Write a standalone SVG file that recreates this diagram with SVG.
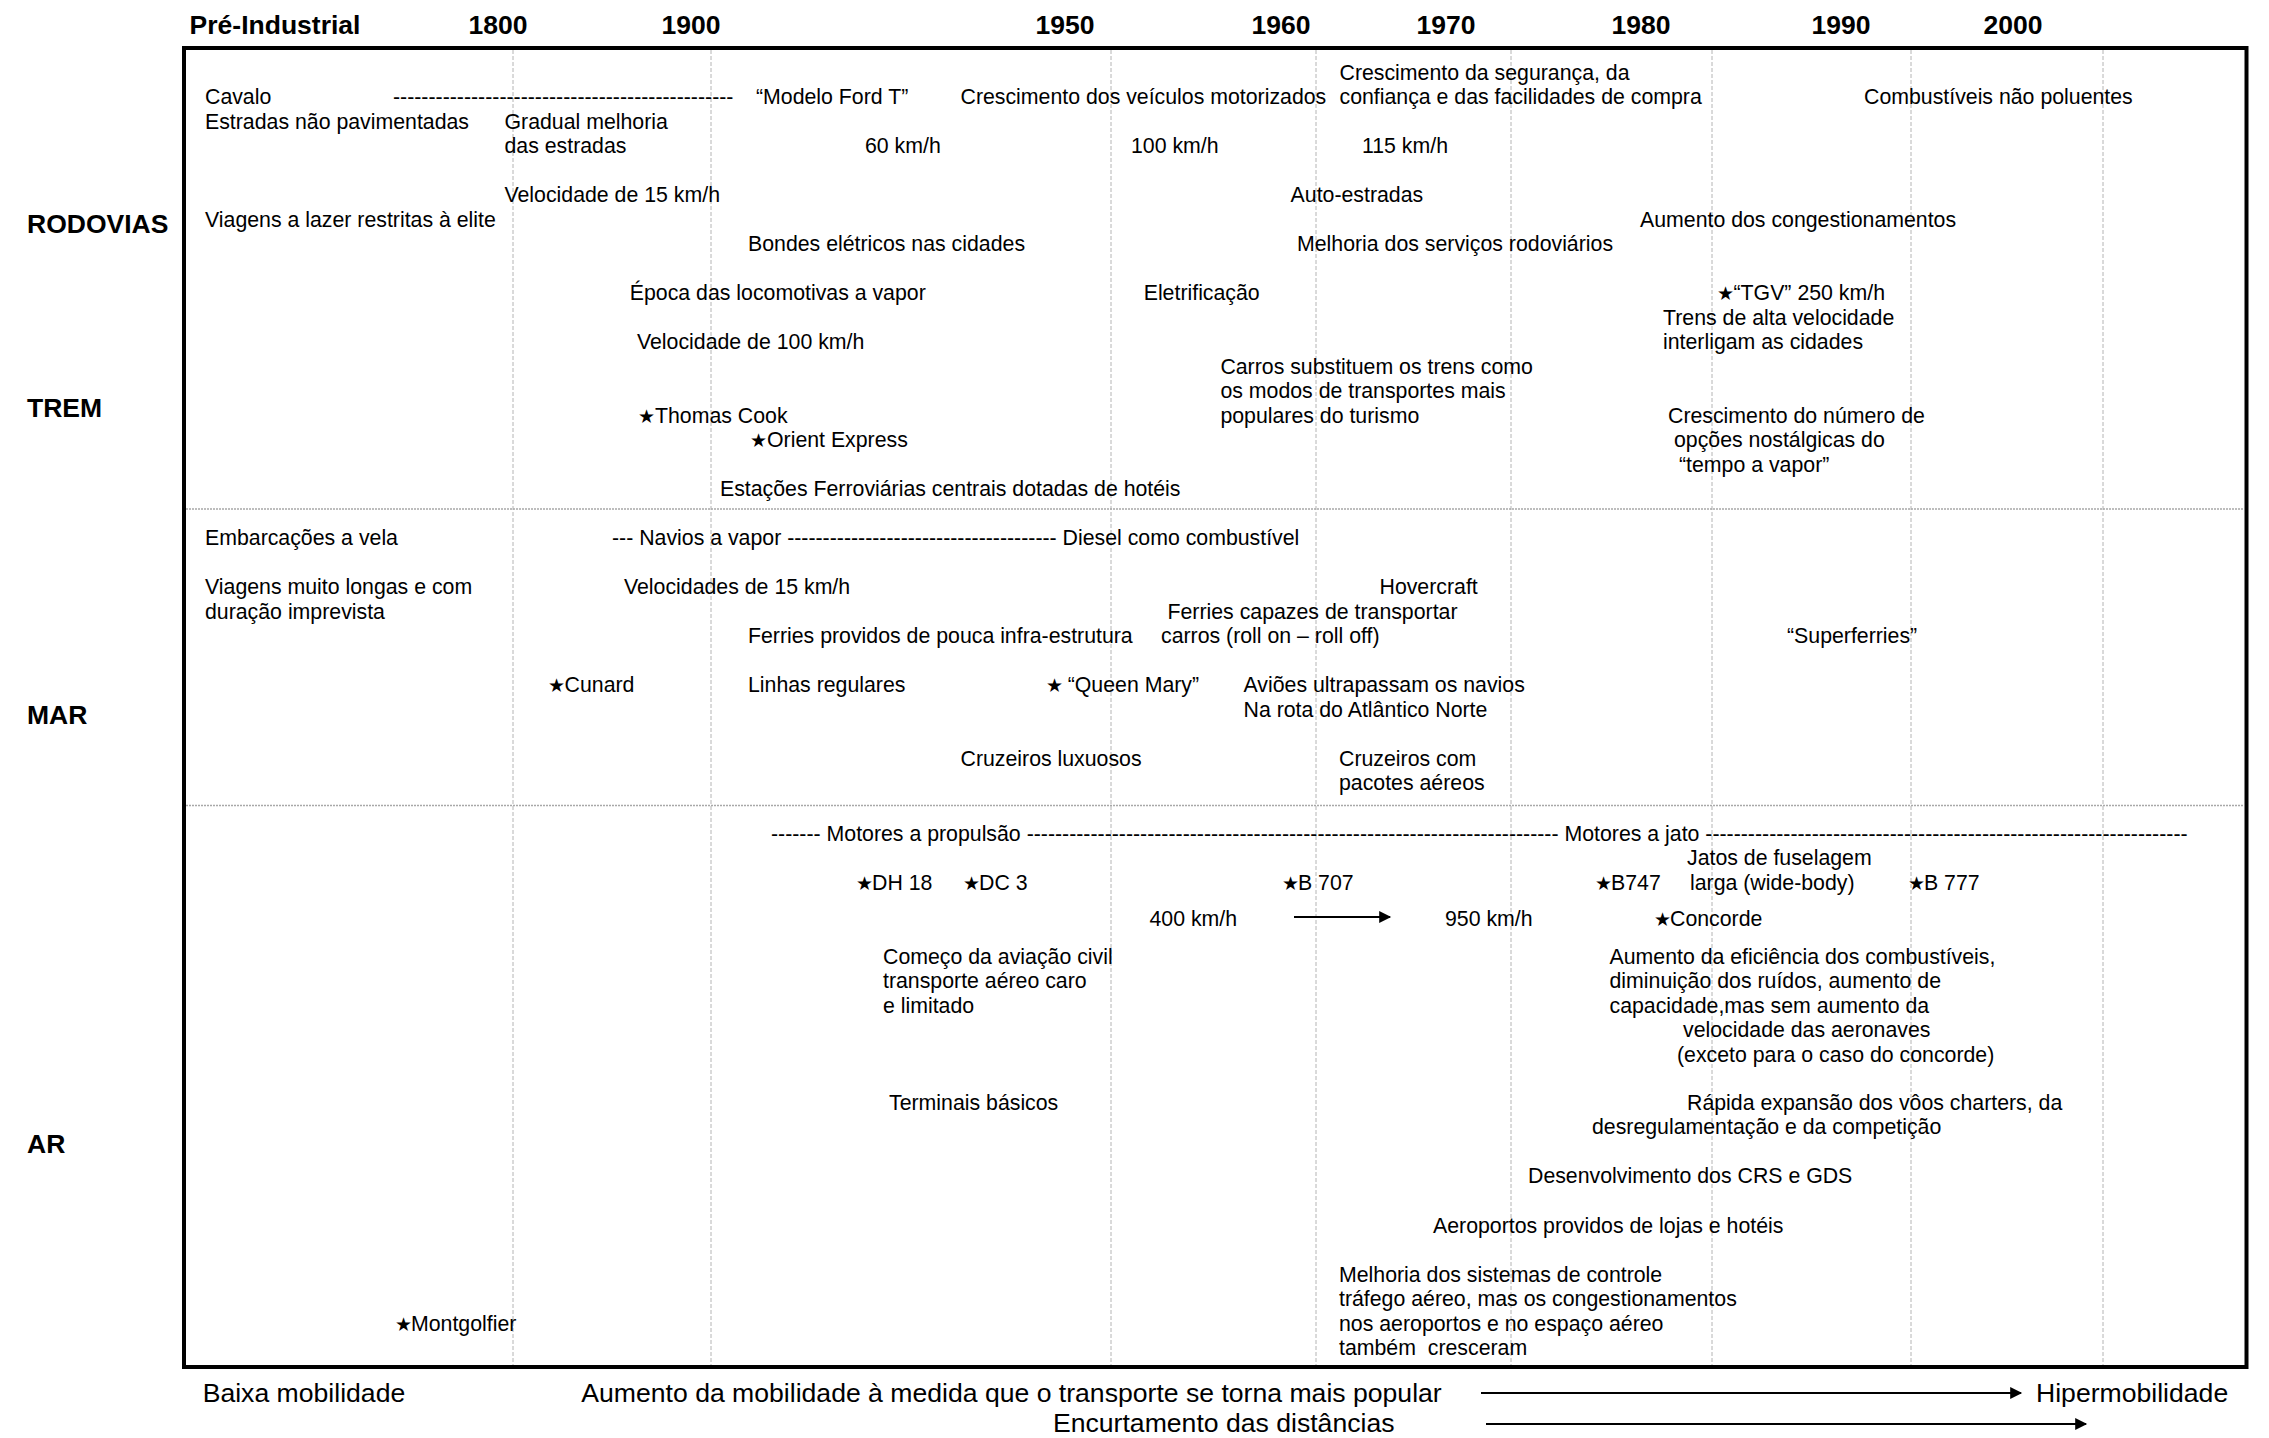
<svg xmlns="http://www.w3.org/2000/svg" width="2269" height="1438" viewBox="0 0 2269 1438">
<style>
text{font-family:"Liberation Sans",Arial,sans-serif;fill:#000;white-space:pre}
.t{font-size:21.3px}
.h{font-size:26.5px;font-weight:bold;text-anchor:middle}
.r{font-size:26.5px;font-weight:bold}
.f{font-size:26.6px}
.star{font-family:"DejaVu Sans",sans-serif;font-size:19px}
.grid{stroke:#b4b4b4;stroke-width:1;stroke-dasharray:4 2;fill:none}
.sep{stroke:#a8a8a8;stroke-width:1.5;stroke-dasharray:2 1;fill:none}
.arr{stroke:#000;stroke-width:2;fill:none;marker-end:url(#ah)}
</style>
<defs>
<marker id="ah" viewBox="0 0 10 10" refX="9" refY="5" markerWidth="13" markerHeight="12" markerUnits="userSpaceOnUse" orient="auto">
<path d="M0,0 L10,5 L0,10 z" fill="#000"/>
</marker>
</defs>
<rect width="2269" height="1438" fill="#fff"/>

<g id="frame">
<line class="grid" x1="513" y1="50" x2="513" y2="1365"/>
<line class="grid" x1="711" y1="50" x2="711" y2="1365"/>
<line class="grid" x1="1111" y1="50" x2="1111" y2="1365"/>
<line class="grid" x1="1316" y1="50" x2="1316" y2="1365"/>
<line class="grid" x1="1511" y1="50" x2="1511" y2="1365"/>
<line class="grid" x1="1712" y1="50" x2="1712" y2="1365"/>
<line class="grid" x1="1911" y1="50" x2="1911" y2="1365"/>
<line class="grid" x1="2103" y1="50" x2="2103" y2="1365"/>
<line class="sep" x1="186" y1="509" x2="2244" y2="509"/>
<line class="sep" x1="186" y1="805.5" x2="2244" y2="805.5"/>
<rect x="184" y="48" width="2062.5" height="1319" fill="none" stroke="#000" stroke-width="4"/>
</g>

<g id="header">
<text class="h" x="189.6" y="34" style="text-anchor:start">Pré-Industrial</text>
<text class="h" x="498" y="34">1800</text>
<text class="h" x="691" y="34">1900</text>
<text class="h" x="1065" y="34">1950</text>
<text class="h" x="1281" y="34">1960</text>
<text class="h" x="1446" y="34">1970</text>
<text class="h" x="1641" y="34">1980</text>
<text class="h" x="1841" y="34">1990</text>
<text class="h" x="2013" y="34">2000</text>
</g>

<g id="row-labels">
<text class="r" x="27" y="233">RODOVIAS</text>
<text class="r" x="27" y="417">TREM</text>
<text class="r" x="27" y="724">MAR</text>
<text class="r" x="27" y="1153">AR</text>
</g>

<g id="rodovias">
<g id="n-cavalo"><text class="t" x="205" y="104">Cavalo</text></g>
<g id="n-cavalo-dash"><text class="t" x="393" y="104">------------------------------------------------</text></g>
<g id="n-fordt"><text class="t" x="756" y="104">“Modelo Ford T”</text></g>
<g id="n-cresc-veic"><text class="t" x="960.5" y="104">Crescimento dos veículos motorizados</text></g>
<g id="n-cresc-seg"><text class="t" y="79.5"><tspan x="1339.5">Crescimento da segurança, da</tspan><tspan x="1339.5" y="104">confiança e das facilidades de compra</tspan></text></g>
<g id="n-combust"><text class="t" x="1864" y="104">Combustíveis não poluentes</text></g>
<g id="n-estradas"><text class="t" x="205" y="128.5">Estradas não pavimentadas</text></g>
<g id="n-gradual"><text class="t" y="128.5"><tspan x="504.5">Gradual melhoria</tspan><tspan x="504.5" y="153">das estradas</tspan></text></g>
<g id="n-60"><text class="t" x="865" y="153">60 km/h</text></g>
<g id="n-100"><text class="t" x="1131" y="153">100 km/h</text></g>
<g id="n-115"><text class="t" x="1362" y="153">115 km/h</text></g>
<g id="n-vel15"><text class="t" x="504.5" y="202">Velocidade de 15 km/h</text></g>
<g id="n-autoestradas"><text class="t" x="1290.6" y="202">Auto-estradas</text></g>
<g id="n-viagens-lazer"><text class="t" x="205" y="226.5">Viagens a lazer restritas à elite</text></g>
<g id="n-congest"><text class="t" x="1640" y="226.5">Aumento dos congestionamentos</text></g>
<g id="n-bondes"><text class="t" x="748" y="251">Bondes elétricos nas cidades</text></g>
<g id="n-melhoria-serv"><text class="t" x="1297" y="251">Melhoria dos serviços rodoviários</text></g>
</g>

<g id="trem">
<g id="n-epoca"><text class="t" x="629.8" y="300">Época das locomotivas a vapor</text></g>
<g id="n-eletrif"><text class="t" x="1143.7" y="300">Eletrificação</text></g>
<g id="n-tgv"><text class="t" y="300"><tspan class="star" x="1717">★</tspan><tspan x="1733.5">“TGV” 250 km/h</tspan></text></g>
<g id="n-trens-alta"><text class="t" y="324.5"><tspan x="1663">Trens de alta velocidade</tspan><tspan x="1663" y="349">interligam as cidades</tspan></text></g>
<g id="n-vel100"><text class="t" x="637" y="349">Velocidade de 100 km/h</text></g>
<g id="n-carros"><text class="t" y="373.5"><tspan x="1220.4">Carros substituem os trens como</tspan><tspan x="1220.4" y="398">os modos de transportes mais</tspan><tspan x="1220.4" y="422.5">populares do turismo</tspan></text></g>
<g id="n-thomas"><text class="t" y="422.5"><tspan class="star" x="638">★</tspan><tspan x="655">Thomas Cook</tspan></text></g>
<g id="n-nostalg"><text class="t" y="422.5"><tspan x="1668">Crescimento do número de</tspan><tspan x="1674" y="447">opções nostálgicas do</tspan><tspan x="1679" y="471.5">“tempo a vapor”</tspan></text></g>
<g id="n-orient"><text class="t" y="447"><tspan class="star" x="750">★</tspan><tspan x="767">Orient Express</tspan></text></g>
<g id="n-estacoes"><text class="t" x="720" y="496">Estações Ferroviárias centrais dotadas de hotéis</text></g>
</g>

<g id="mar">
<g id="n-embarc"><text class="t" x="205" y="545">Embarcações a vela</text></g>
<g id="n-navios"><text class="t" x="612" y="545">--- Navios a vapor -------------------------------------- Diesel como combustível</text></g>
<g id="n-viagens-longas"><text class="t" y="594"><tspan x="205">Viagens muito longas e com</tspan><tspan x="205" y="618.5">duração imprevista</tspan></text></g>
<g id="n-vel15m"><text class="t" x="624" y="594">Velocidades de 15 km/h</text></g>
<g id="n-hover"><text class="t" x="1379.5" y="594">Hovercraft</text></g>
<g id="n-ferries-cap"><text class="t" y="618.5"><tspan x="1167.5">Ferries capazes de transportar</tspan><tspan x="1161" y="643">carros (roll on – roll off)</tspan></text></g>
<g id="n-ferries-prov"><text class="t" x="748" y="643">Ferries providos de pouca infra-estrutura</text></g>
<g id="n-superferries"><text class="t" x="1787" y="643">“Superferries”</text></g>
<g id="n-cunard"><text class="t" y="692"><tspan class="star" x="548">★</tspan><tspan x="564.6">Cunard</tspan></text></g>
<g id="n-linhas"><text class="t" x="748" y="692">Linhas regulares</text></g>
<g id="n-queen"><text class="t" y="692"><tspan class="star" x="1046">★</tspan><tspan x="1067.7">“Queen Mary”</tspan></text></g>
<g id="n-avioes"><text class="t" y="692"><tspan x="1243.5">Aviões ultrapassam os navios</tspan><tspan x="1243.5" y="716.5">Na rota do Atlântico Norte</tspan></text></g>
<g id="n-cruz-lux"><text class="t" x="960.5" y="765.5">Cruzeiros luxuosos</text></g>
<g id="n-cruz-com"><text class="t" y="765.5"><tspan x="1339">Cruzeiros com</tspan><tspan x="1339" y="790">pacotes aéreos</tspan></text></g>
</g>

<g id="ar">
<g id="n-motores"><text class="t" x="771" y="840.5">------- Motores a propulsão --------------------------------------------------------------------------- Motores a jato --------------------------------------------------------------------</text></g>
<g id="n-jatos"><text class="t" y="865"><tspan x="1687">Jatos de fuselagem</tspan><tspan x="1690" y="889.5">larga (wide-body)</tspan></text></g>
<g id="n-dh18"><text class="t" y="889.5"><tspan class="star" x="856">★</tspan><tspan x="872">DH 18</tspan></text></g>
<g id="n-dc3"><text class="t" y="889.5"><tspan class="star" x="963">★</tspan><tspan x="979">DC 3</tspan></text></g>
<g id="n-b707"><text class="t" y="889.5"><tspan class="star" x="1282">★</tspan><tspan x="1298">B 707</tspan></text></g>
<g id="n-b747"><text class="t" y="889.5"><tspan class="star" x="1595">★</tspan><tspan x="1611">B747</tspan></text></g>
<g id="n-b777"><text class="t" y="889.5"><tspan class="star" x="1908">★</tspan><tspan x="1924">B 777</tspan></text></g>
<g id="n-400"><text class="t" x="1149.5" y="926">400 km/h</text></g>
<g id="n-950"><text class="t" x="1445" y="926">950 km/h</text></g>
<g id="n-concorde"><text class="t" y="926"><tspan class="star" x="1654">★</tspan><tspan x="1670">Concorde</tspan></text></g>
<g id="n-comeco"><text class="t" y="963.5"><tspan x="883">Começo da aviação civil</tspan><tspan x="883" y="988">transporte aéreo caro</tspan><tspan x="883" y="1012.5">e limitado</tspan></text></g>
<g id="n-eficiencia"><text class="t" y="963.5"><tspan x="1609.5">Aumento da eficiência dos combustíveis,</tspan><tspan x="1609.5" y="988">diminuição dos ruídos, aumento de</tspan><tspan x="1609.5" y="1012.5">capacidade,mas sem aumento da</tspan><tspan x="1683" y="1037">velocidade das aeronaves</tspan><tspan x="1677" y="1061.5">(exceto para o caso do concorde)</tspan></text></g>
<g id="n-terminais"><text class="t" x="889" y="1109.5">Terminais básicos</text></g>
<g id="n-rapida"><text class="t" y="1109.5"><tspan x="1687">Rápida expansão dos vôos charters, da</tspan><tspan x="1592" y="1134">desregulamentação e da competição</tspan></text></g>
<g id="n-crs"><text class="t" x="1528" y="1183">Desenvolvimento dos CRS e GDS</text></g>
<g id="n-aeroportos"><text class="t" x="1433" y="1232.5">Aeroportos providos de lojas e hotéis</text></g>
<g id="n-controle"><text class="t" y="1281.5"><tspan x="1339">Melhoria dos sistemas de controle</tspan><tspan x="1339" y="1306">tráfego aéreo, mas os congestionamentos</tspan><tspan x="1339" y="1330.5">nos aeroportos e no espaço aéreo</tspan><tspan x="1339" y="1355">também  cresceram</tspan></text></g>
<g id="n-montgolfier"><text class="t" y="1330.5"><tspan class="star" x="395">★</tspan><tspan x="411">Montgolfier</tspan></text></g>
</g>

<g id="footer">
<g id="n-baixa"><text class="f" x="202.7" y="1402">Baixa mobilidade</text></g>
<g id="n-aumento"><text class="f" x="581.3" y="1402">Aumento da mobilidade à medida que o transporte se torna mais popular</text></g>
<g id="n-hiper"><text class="f" x="2036" y="1402">Hipermobilidade</text></g>
<g id="n-encurt"><text class="f" x="1053" y="1432">Encurtamento das distâncias</text></g>
</g>

<g id="connectors">
<line class="arr" x1="1294" y1="917" x2="1390" y2="917"/>
<line class="arr" x1="1481" y1="1393" x2="2021" y2="1393"/>
<line class="arr" x1="1486" y1="1424" x2="2086" y2="1424"/>
</g>
</svg>
